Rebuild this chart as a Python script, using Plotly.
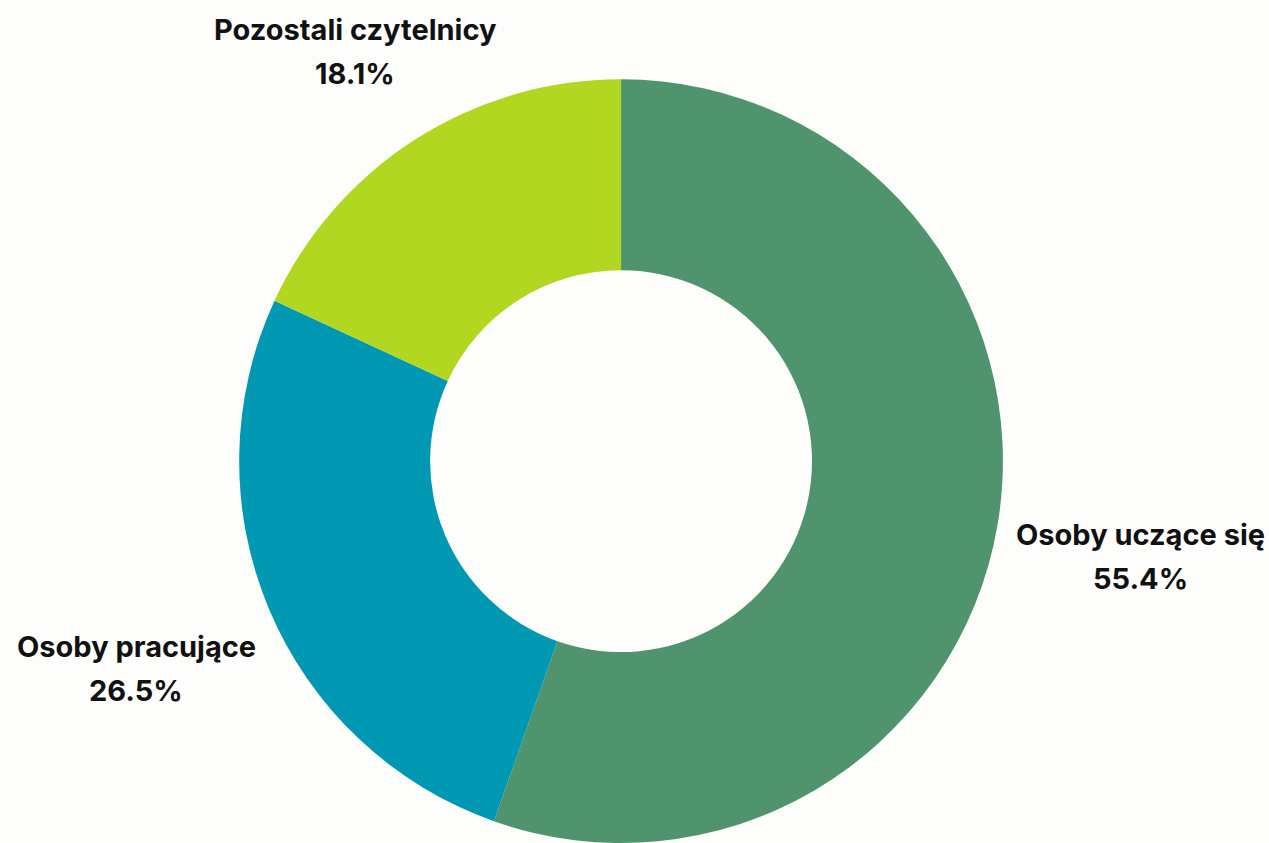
import plotly.graph_objects as go

labels = ["Osoby uczące się", "Osoby pracujące", "Pozostali czytelnicy"]
values = [55.4, 26.5, 18.1]
colors = ["#4F946D", "#0098B3", "#B1D720"]

W, H = 1269, 843

fig = go.Figure(go.Pie(
    labels=labels,
    values=values,
    hole=0.5,
    sort=False,
    direction="clockwise",
    rotation=0,
    marker=dict(colors=colors, line=dict(width=0)),
    textinfo="none",
    hoverinfo="label+percent",
    showlegend=False,
    domain=dict(x=[0.1694, 0.8094], y=[0.0, 0.906]),
))

# label positions in pixels (center x, first-line center y)
label_pos = [(1140, 534), (136, 646), (355, 29)]
line_gap = 44
font = dict(family="Inter", size=29, color="#111111")
for lab, val, (px, py) in zip(labels, values, label_pos):
    for i, txt in enumerate([lab, f"{val:.1f}%"]):
        fig.add_annotation(
            x=px / W, y=1 - (py + i * line_gap) / H, xref="paper", yref="paper",
            text=f"<b>{txt}</b>",
            showarrow=False, xanchor="center", yanchor="middle",
            font=font,
        )

fig.update_layout(
    width=W, height=H,
    margin=dict(l=0, r=0, t=0, b=0),
    paper_bgcolor="#FDFDFB",
    plot_bgcolor="#FDFDFB",
)

fig.write_html(
    "out.html",
    config={"displayModeBar": False},
    post_script="document.body.style.margin='0';document.body.style.overflow='hidden';document.body.style.background='#FDFDFB';",
)
